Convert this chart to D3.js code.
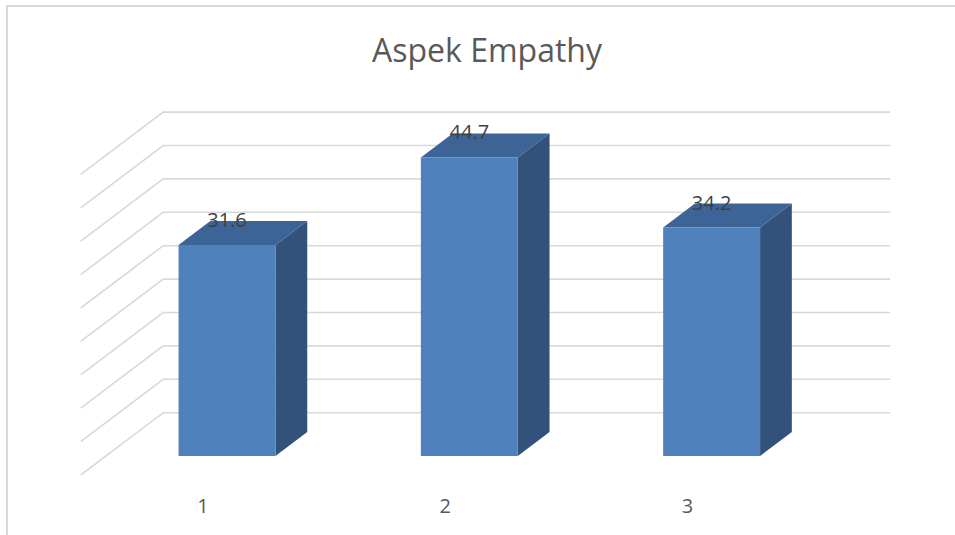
<!DOCTYPE html>
<html>
<head>
<meta charset="utf-8">
<script src="https://cdn.jsdelivr.net/npm/d3@7"></script>
<style>
  body { margin: 0; background: #fff; }
  svg { display: block; }
</style>
</head>
<body>
<div id="chart"></div>
<script>
// values
const categories = ["1", "2", "3"]
const values = [31.6, 44.7, 34.2]
const gridTicks = [0, 5, 10, 15, 20, 25, 30, 35, 40, 45]
const title = "Aspek Empathy"

const W = 955, H = 535

// 3d look: depth offset for the floor, front to back wall
const DX = 82.5, DY = 62.3
const zFront = 0.305, zBack = 0.69

let svg = d3.select("#chart")
    .append("svg")
    .attr("width", W)
    .attr("height", H)

// chart area border
svg.append("rect")
    .attr("x", 7).attr("y", 6)
    .attr("width", 1000).attr("height", 600)
    .attr("fill", "none")
    .attr("stroke", "#d9d9d9")
    .attr("stroke-width", 2)

svg.append("text")
    .text(title)
    .attr("x", 487)
    .attr("y", 62)
    .attr("text-anchor", "middle")
    .attr("font-family", "'Open Sans', sans-serif")
    .attr("font-size", "32px")
    .attr("fill", "#595959")

// front plane scales
let x = d3.scaleBand().domain(categories).range([80.7, 807.6]).padding(0)
let y = d3.scaleLinear().domain([0, 45]).range([475, 475 - 45 * 6.68])

const proj = (xf, v, z) => [xf + z * DX, y(v) - z * DY]
const poly = pts => pts.map(p => p.join(",")).join(" ")

// gridlines: side wall diagonal + back wall line
svg.append("g")
    .selectAll("polyline")
    .data(gridTicks)
    .enter()
    .append("polyline")
    .attr("points", t => poly([
        proj(x.range()[0], t, 0),
        proj(x.range()[0], t, 1),
        proj(x.range()[1], t, 1)
    ]))
    .attr("fill", "none")
    .attr("stroke", "#d9d9d9")
    .attr("stroke-width", 1.6)

let barW = x.bandwidth() * 0.4
let data = categories.map((c, i) => ({cat: c, value: values[i]}))

let bars = svg.selectAll(".bar")
    .data(data)
    .enter()
    .append("g")
    .attr("class", "bar")

const xl = d => x(d.cat) + x.bandwidth() / 2 - barW / 2
const xr = d => x(d.cat) + x.bandwidth() / 2 + barW / 2

// side face
bars.append("polygon")
    .attr("points", d => poly([
        proj(xr(d), 0, zFront),
        proj(xr(d), 0, zBack),
        proj(xr(d), d.value, zBack),
        proj(xr(d), d.value, zFront)
    ]))
    .attr("fill", "#32527c")

// top face
bars.append("polygon")
    .attr("points", d => poly([
        proj(xl(d), d.value, zFront),
        proj(xr(d), d.value, zFront),
        proj(xr(d), d.value, zBack),
        proj(xl(d), d.value, zBack)
    ]))
    .attr("fill", "#3c6496")

// front face
bars.append("polygon")
    .attr("points", d => poly([
        proj(xl(d), 0, zFront),
        proj(xr(d), 0, zFront),
        proj(xr(d), d.value, zFront),
        proj(xl(d), d.value, zFront)
    ]))
    .attr("fill", "#4f81bd")

// data labels
bars.append("text")
    .text(d => d.value.toFixed(1))
    .attr("x", d => proj(x(d.cat) + x.bandwidth() / 2, d.value, zFront)[0])
    .attr("y", d => proj(x(d.cat) + x.bandwidth() / 2, d.value, zFront)[1] - 18)
    .attr("text-anchor", "middle")
    .attr("font-family", "'Open Sans', sans-serif")
    .attr("font-size", "20px")
    .attr("fill", "#404040")

// category labels
svg.append("g")
    .selectAll("text")
    .data(categories)
    .enter()
    .append("text")
    .text(d => d)
    .attr("x", d => x(d) + x.bandwidth() / 2 + 1)
    .attr("y", y(0) + 38)
    .attr("text-anchor", "middle")
    .attr("font-family", "'Open Sans', sans-serif")
    .attr("font-size", "20px")
    .attr("fill", "#595959")
</script>
</body>
</html>
